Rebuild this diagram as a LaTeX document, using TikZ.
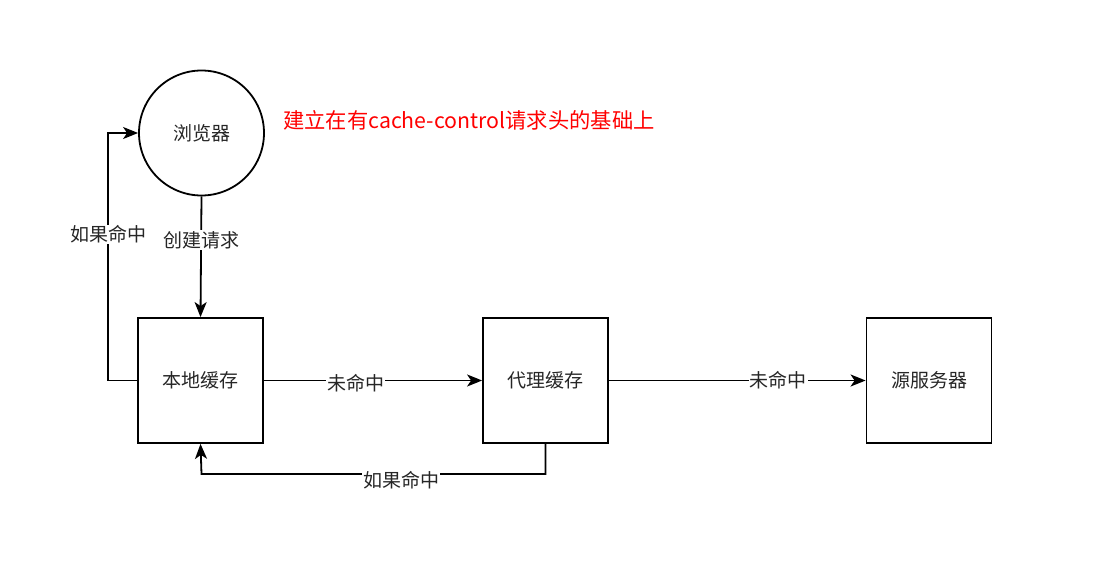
\documentclass[tikz,border=0pt]{standalone}
\usepackage{fontspec}
\newfontfamily\cjk{Noto Sans CJK SC}
\usetikzlibrary{arrows.meta}
\begin{document}
\begin{tikzpicture}[x=1pt,y=-1pt,
  box/.style={draw=black,line width=1.8pt,minimum width=125pt,minimum height=125pt,inner sep=0pt,font=\cjk\fontsize{19}{22}\selectfont,text=black!85},
  circ/.style={draw=black,line width=1.8pt,circle,minimum size=125pt,inner sep=0pt,font=\cjk\fontsize{19}{22}\selectfont,text=black!85},
  conn/.style={line width=1.8pt,-{Stealth[length=15pt,width=12pt,inset=4pt]}},
  lbl/.style={fill=white,inner sep=1pt,font=\cjk\fontsize{19}{22}\selectfont,text=black!85}]
\useasboundingbox (0,0) rectangle (1100,588);
\node[circ] (browser) at (201.5,133) {浏览器};
\node[box] (local) at (200.5,380.5) {本地缓存};
\node[box] (proxy) at (545.5,380.5) {代理缓存};
\node[box] (origin) at (929,380.5) {源服务器};
\node[anchor=west,text=red,font=\cjk\fontsize{21.3}{24}\selectfont,inner sep=0pt] (title) at (283,120) {建立在有cache-control请求头的基础上};
\coordinate (l1) at (108,380.5);
\coordinate (l2) at (108,133);
\coordinate (b1) at (545.5,474);
\coordinate (b2) at (201.5,474);
\draw[conn] (browser.south) -- node[lbl,pos=0.36]{创建请求} (local.north);
\draw[conn] (local.west) -- (l1) -- node[lbl,pos=0.59]{如果命中} (l2) -- (browser.west);
\draw[conn] (local.east) -- node[lbl,pos=0.42,yshift=-3pt]{未命中} (proxy.west);
\draw[conn] (proxy.east) -- node[lbl,pos=0.66]{未命中} (origin.west);
\draw[conn] (proxy.south) -- (b1) -- node[lbl,pos=0.42,yshift=-6pt]{如果命中} (b2) -- (local.south);
\end{tikzpicture}
\end{document}
